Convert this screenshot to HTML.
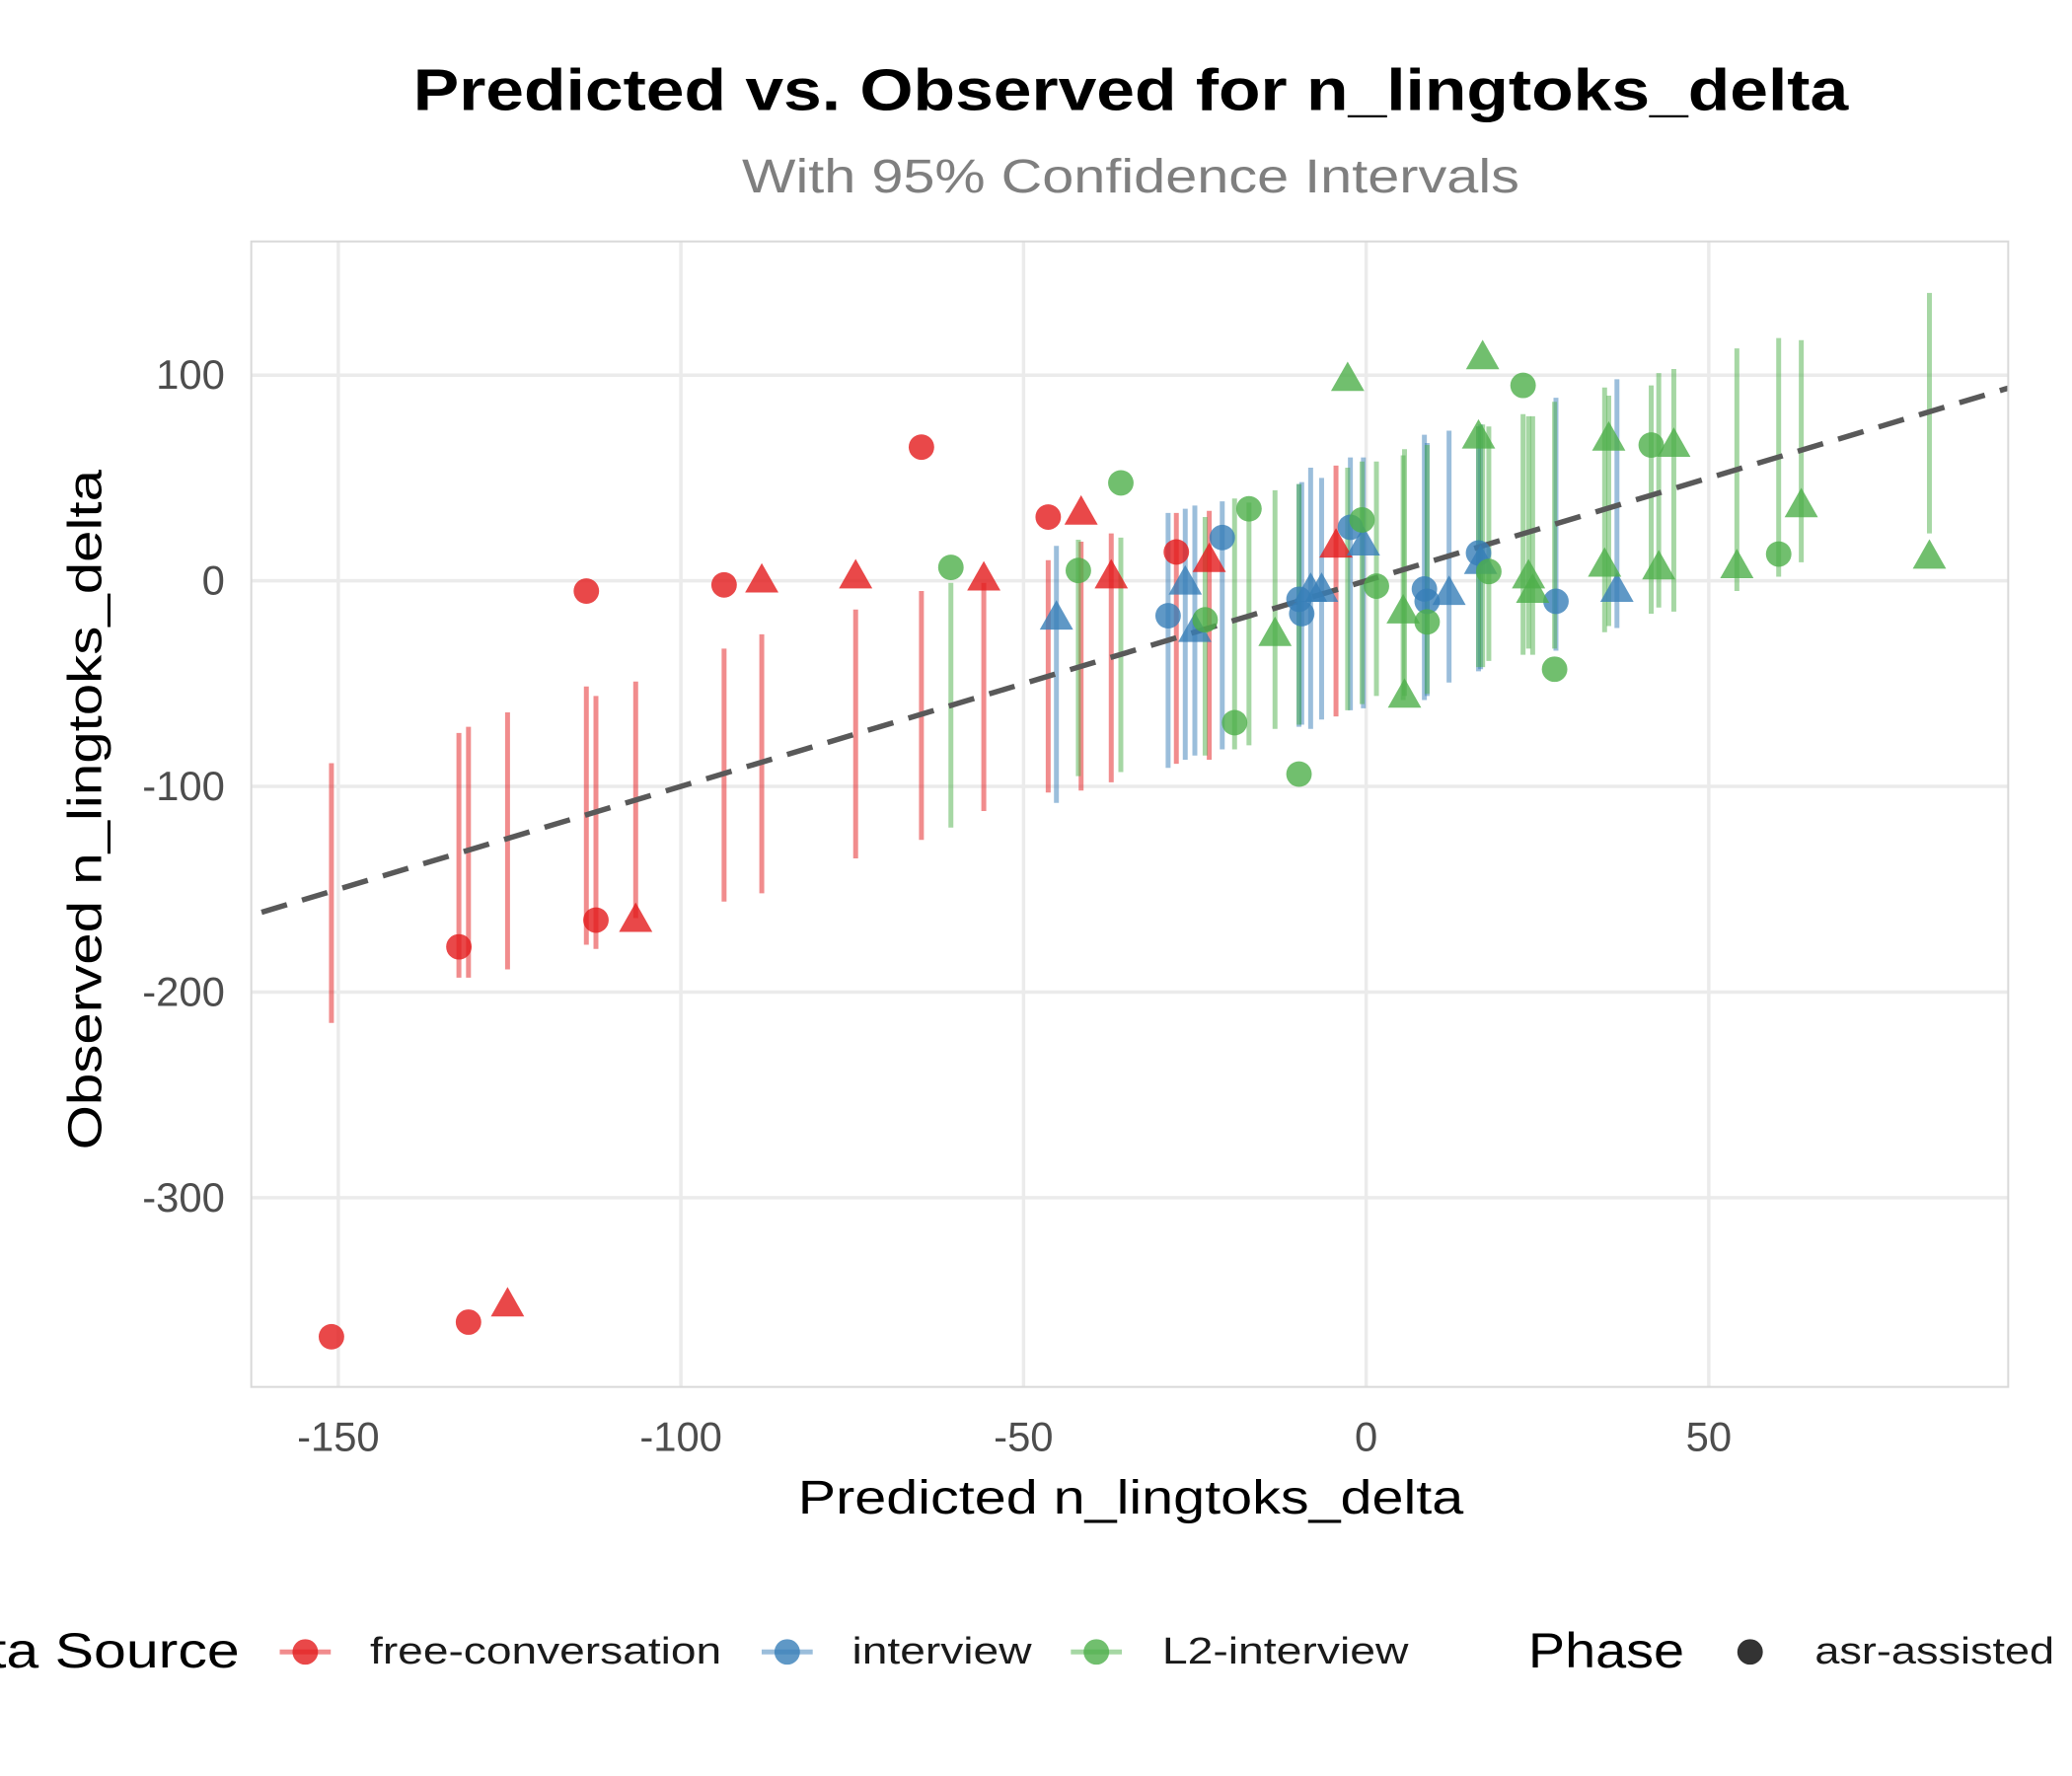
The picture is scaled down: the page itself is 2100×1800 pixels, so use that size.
<!DOCTYPE html>
<html><head><meta charset="utf-8"><style>
html,body{margin:0;padding:0;background:#fff;}
svg{display:block;font-family:"Liberation Sans",sans-serif;}
</style></head><body>
<svg id="chart" width="2100" height="1800" viewBox="0 0 2100 1800" xmlns="http://www.w3.org/2000/svg">
<rect x="0" y="0" width="2100" height="1800" fill="#fff"/>
<g transform="scale(0.9948)">
<text x="1152" y="112" text-anchor="middle" font-size="60" font-weight="bold" textLength="1462" lengthAdjust="spacingAndGlyphs" fill="#000">Predicted vs. Observed for n_lingtoks_delta</text>
<text x="1152" y="196" text-anchor="middle" font-size="48" fill="#7f7f7f" textLength="792" lengthAdjust="spacingAndGlyphs">With 95% Confidence Intervals</text>
<g id="grid"></g>
<g id="bars"></g>
<g id="refline"></g>
<g id="points"></g>
<rect x="256" y="246" width="1790" height="1167" fill="none" stroke="#d9d9d9" stroke-width="2"/>
<g id="ticks"></g>
<text x="1152" y="1542" text-anchor="middle" font-size="48" fill="#000" textLength="678" lengthAdjust="spacingAndGlyphs">Predicted n_lingtoks_delta</text>
<text transform="translate(103,825) rotate(-90)" text-anchor="middle" font-size="48" fill="#000" textLength="693" lengthAdjust="spacingAndGlyphs">Observed n_lingtoks_delta</text>
<g>
<text x="244" y="1699" text-anchor="end" font-size="50" fill="#000" textLength="330" lengthAdjust="spacingAndGlyphs">Data Source</text>
<g>
<line x1="285" y1="1683" x2="337" y2="1683" stroke="#E41A1C" stroke-opacity="0.5" stroke-width="5"/>
<circle cx="311" cy="1683" r="13" fill="#E41A1C" fill-opacity="0.8"/>
<text x="377" y="1695" font-size="38" fill="#1a1a1a" textLength="358" lengthAdjust="spacingAndGlyphs">free-conversation</text></g>
<g>
<line x1="776" y1="1683" x2="828" y2="1683" stroke="#377EB8" stroke-opacity="0.5" stroke-width="5"/>
<circle cx="802" cy="1683" r="13" fill="#377EB8" fill-opacity="0.8"/>
<text x="868" y="1695" font-size="38" fill="#1a1a1a" textLength="183" lengthAdjust="spacingAndGlyphs">interview</text></g>
<g>
<line x1="1091" y1="1683" x2="1143" y2="1683" stroke="#4DAF4A" stroke-opacity="0.5" stroke-width="5"/>
<circle cx="1117" cy="1683" r="13" fill="#4DAF4A" fill-opacity="0.8"/>
<text x="1184" y="1695" font-size="38" fill="#1a1a1a" textLength="251" lengthAdjust="spacingAndGlyphs">L2-interview</text></g>
<text x="1557" y="1699" font-size="50" fill="#000" textLength="159" lengthAdjust="spacingAndGlyphs">Phase</text>
<g>
<circle cx="1783" cy="1683" r="13" fill="#333"/>
<text x="1849" y="1695" font-size="38" fill="#1a1a1a" textLength="244" lengthAdjust="spacingAndGlyphs">asr-assisted</text></g>
</g>
</g>
</svg>
<script>
const xTicks = [-150, -100, -50, 0, 50];
const yTicks = [100, 0, -100, -200, -300];
const groups = ["free-conversation", "interview", "L2-interview"];
// red
const fcPred  = [-151,-132.4,-131,-125.3,-113.8,-112.4,-106.6,-93.7,-88.2,-74.5,-64.9,-55.8,-46.4,-41.6,-37.2,-27.7,-22.9,-4.4];
const fcObs   = [-367.6,-178,-360.5,-352,-5,-165,-165,-2,0,2,65,1,31,33,2,14,10,17];
const fcLo    = [-215,-193,-193,-189,-177,-179,-164,-156,-152,-135,-126,-112,-103,-102,-98,-89,-87,-66];
const fcHi    = [-88.7,-74,-71,-64,-51.4,-56,-49,-33,-26,-14,-5,-1,10,19,23,33,34,56];
const fcShape = ["c","c","c","t","c","c","t","c","t","t","c","t","c","t","t","c","t","t"];
// blue
const ivPred  = [-45.2,-28.9,-26.4,-25,-21,-9.8,-9.4,-8.1,-6.5,-2.3,-0.4,8.5,8.9,12.1,16.4,16.7,27.7,36.6];
const ivObs   = [-18,-17,-1,-24,21,-9,-16,-4.5,-4.5,26,18,-4,-10,-6,13.5,9,-10,-4.5];
const ivLo    = [-108,-91,-87,-85,-82,-71,-70,-72,-67.5,-63,-62,-58,-56,-49.5,-44,-43,-34,-23];
const ivHi    = [17,33,35,36.6,38.6,47,48,55,50,60,60,71,67,73,75,76,89,98];
const ivShape = ["t","c","t","t","c","c","c","t","t","c","t","c","c","t","c","t","c","t"];
// green
const l2Pred  = [-60.6,-42,-35.8,-23.5,-19.2,-17.1,-13.3,-9.8,-2.7,-0.6,1.5,5.4,5.6,8.9,16.4,17,17.9,22.9,23.7,24.3,27.5,34.8,35.4,41.6,42.7,44.9,54.1,60.2,63.5,82.2];
const l2Obs   = [6.5,5,47.6,-19,-69,35,-26,-94,98,29.6,-2.6,-15,-56,-20,70,108.6,4.5,95,2,-5,-43,7.7,69,66,6.4,66,7,13,36.6,11.6];
const l2Lo    = [-120,-95,-93,-85,-82,-80,-72,-70,-63,-60,-56,-58,-56,-55,-42,-42,-39,-36,-33,-36,-33,-25,-22,-16,-13,-15,-5,2,9,23];
const l2Hi    = [-1,20,21,31,40,38,44,47,55,58,58,61,64,66,75,76,75,81,80,80,87,94,90,95,101,103,113,118,117,140];
const l2Shape = ["c","c","c","c","c","c","t","c","t","c","c","t","t","c","t","t","c","c","t","t","c","t","t","c","t","t","t","c","t","t"];

const colors = ["#E41A1C","#377EB8","#4DAF4A"];
const NS = "http://www.w3.org/2000/svg";
const xMin = -162.7, xMax = 93.7, yMin = -392, yMax = 165;
const L = 256, R = 2046, T = 246, B = 1413;
function sx(v){ return L + (v - xMin) / (xMax - xMin) * (R - L); }
function sy(v){ return B - (v - yMin) / (yMax - yMin) * (B - T); }
function mk(tag, attrs, parent){ const e = document.createElementNS(NS, tag); for (const k in attrs) e.setAttribute(k, attrs[k]); parent.appendChild(e); return e; }

const grid = document.getElementById('grid');
const ticks = document.getElementById('ticks');
xTicks.forEach(v => {
  const g = mk('line', {x1: sx(v), x2: sx(v), y1: T, y2: B, stroke: '#ebebeb', 'stroke-width': 3.5}, grid);
  
  
  const t = mk('text', {x: sx(v), y: 1478, 'text-anchor': 'middle', 'font-size': 42, fill: '#4d4d4d'}, ticks);
  t.textContent = String(v);
  
  
});
yTicks.forEach(v => {
  const g = mk('line', {x1: L, x2: R, y1: sy(v), y2: sy(v), stroke: '#ebebeb', 'stroke-width': 3.5}, grid);
  
  
  const t = mk('text', {x: 229, y: sy(v) + 14, 'text-anchor': 'end', 'font-size': 42, fill: '#4d4d4d'}, ticks);
  t.textContent = String(v);
  
  
});

const series = [
  [fcPred, fcObs, fcLo, fcHi, fcShape],
  [ivPred, ivObs, ivLo, ivHi, ivShape],
  [l2Pred, l2Obs, l2Lo, l2Hi, l2Shape]
];
const bars = document.getElementById('bars');
series.forEach((s, gi) => {
  s[0].forEach((p, i) => {
    const b = mk('line', {x1: sx(p), x2: sx(p), y1: sy(s[2][i]), y2: sy(s[3][i]), stroke: colors[gi], 'stroke-opacity': 0.5, 'stroke-width': 5}, bars);
    
    
  });
});
const ref = document.getElementById('refline');
const rl = mk('line', {x1: sx(xMin + 1.5), y1: sy(xMin + 1.5), x2: sx(xMax), y2: sy(xMax), stroke: '#595959', 'stroke-width': 5.5, 'stroke-dasharray': '27 16'}, ref);



const pts = document.getElementById('points');
series.forEach((s, gi) => {
  s[0].forEach((p, i) => {
    const cx = sx(p), cy = sy(s[1][i]);
    let e;
    if (s[4][i] === 'c') {
      e = mk('circle', {cx: cx, cy: cy, r: 13, fill: colors[gi], 'fill-opacity': 0.8}, pts);
    } else {
      const h = 30, w = 34;
      e = mk('polygon', {points: `${cx},${cy - h*0.6} ${cx - w/2},${cy + h*0.4} ${cx + w/2},${cy + h*0.4}`, fill: colors[gi], 'fill-opacity': 0.8}, pts);
    }
    
    
  });
});
</script>
</body></html>
